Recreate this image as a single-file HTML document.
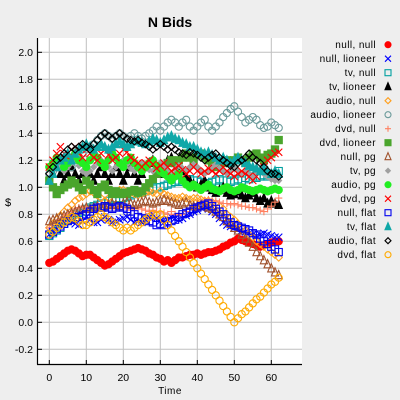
<!DOCTYPE html>
<html><head><meta charset="utf-8"><style>
body{margin:0;background:#eeeeee;}
svg{display:block;font-family:"Liberation Sans",sans-serif;}
</style></head><body>
<svg id="chart" width="400" height="400" viewBox="0 0 400 400" xmlns="http://www.w3.org/2000/svg">
<rect x="0" y="0" width="400" height="400" fill="#eeeeee"/>
<text x="170" y="27" text-anchor="middle" font-size="14" font-weight="bold">N Bids</text>
<rect x="38" y="38" width="264" height="326" fill="#ffffff"/>
<g id="grid"></g>
<g id="series"></g>
<g id="axes"></g>
<text x="8" y="206" text-anchor="middle" font-size="11">$</text>
<text x="170" y="394" text-anchor="middle" font-size="10" letter-spacing="0.5">Time</text>
<g id="legend"></g>
</svg>
<script>
const xTicks=[0,10,20,30,40,50,60];
const yTicks=[-0.2,0,0.2,0.4,0.6,0.8,1.0,1.2,1.4,1.6,1.8,2.0];
const yTickLabels=["-0.2","0.0","0.2","0.4","0.6","0.8","1.0","1.2","1.4","1.6","1.8","2.0"];
const seriesNames=["null, null","null, lioneer","tv, null","tv, lioneer","audio, null","audio, lioneer","dvd, null","dvd, lioneer","null, pg","tv, pg","audio, pg","dvd, pg","null, flat","tv, flat","audio, flat","dvd, flat"];
const nullNull=[.44,.45,.47,.49,.51,.53,.54,.53,.51,.49,.50,.50,.48,.46,.44,.42,.43,.45,.47,.49,.51,.52,.53,.54,.55,.54,.53,.51,.50,.48,.47,.45,.46,.44,.46,.48,.48,.49,.50,.50,.51,.50,.51,.52,.52,.53,.54,.56,.57,.59,.60,.62,.61,.60,.59,.58,.57,.56,.57,.58,.59,.60,.60];
const nullLioneer=[.65,.67,.69,.72,.74,.76,.75,.73,.72,.75,.78,.76,.74,.74,.76,.78,.76,.74,.75,.76,.77,.78,.76,.74,.75,.74,.76,.78,.80,.77,.75,.74,.76,.78,.77,.76,.77,.79,.80,.82,.83,.85,.86,.84,.82,.80,.77,.74,.72,.71,.70,.69,.68,.67,.66,.65,.64,.65,.66,.65,.64,.63,.63];
const tvNull=[.64,.66,.68,.70,.73,.76,.78,.80,.81,.82,.84,.85,.86,.87,.88,.88,.90,.91,.92,.92,.92,.93,.94,.95,.96,.96,.97,.98,.99,1.00,1.00,1.01,1.02,1.03,1.04,1.05,1.04,1.05,1.06,1.05,1.05,1.04,1.03,1.03,1.04,1.05,1.06,1.05,1.05,1.04,1.05,1.06,1.05,1.07,1.06,1.08,1.07,1.08,1.09,1.08,1.09,1.10,1.12];
const tvLioneer=[1.05,1.10,1.15,1.10,1.05,1.10,1.15,1.10,1.05,1.10,1.15,1.10,1.05,1.10,1.15,1.10,1.05,1.10,1.15,1.10,1.05,1.10,1.15,1.10,1.05,1.10,1.15,1.18,1.20,1.15,1.10,1.15,1.20,1.22,1.18,1.15,1.12,1.08,1.05,1.02,1.00,1.02,1.05,1.00,0.98,0.96,0.98,1.00,0.96,0.94,0.95,0.97,0.94,0.92,0.94,0.96,0.92,0.90,0.92,0.88,0.90,0.88,0.87];
const audioNull=[.70,.73,.76,.79,.82,.85,.87,.90,.92,.93,.95,.97,.96,.94,.92,.90,.92,.95,.97,.98,.98,.97,.96,.95,.94,.95,.96,.97,.96,.95,.97,.95,.94,.93,.92,.92,.93,.92,.91,.92,.92,.91,.90,.90,.89,.88,.86,.84,.80,.78,.76,.73,.70,.68,.65,.63,.60,.58,.56,.54,.52,.50,.48];
const audioLioneer=[1.10,1.12,1.15,1.18,1.20,1.18,1.15,1.20,1.22,1.25,1.28,1.30,1.32,1.35,1.38,1.40,1.38,1.36,1.38,1.40,1.38,1.36,1.38,1.40,1.38,1.36,1.38,1.40,1.42,1.45,1.42,1.45,1.48,1.50,1.48,1.45,1.48,1.50,1.45,1.42,1.45,1.48,1.50,1.45,1.42,1.45,1.48,1.52,1.55,1.58,1.60,1.56,1.52,1.48,1.50,1.52,1.50,1.46,1.44,1.45,1.48,1.46,1.44];
const dvdNull=[.70,.72,.74,.76,.78,.80,.82,.84,.85,.86,.85,.84,.85,.86,.87,.86,.85,.84,.85,.86,.85,.84,.83,.84,.85,.84,.83,.82,.83,.82,.82,.81,.80,.82,.80,.79,.80,.82,.84,.86,.88,.89,.90,.91,.90,.90,.89,.88,.88,.87,.88,.87,.86,.86,.85,.85,.84,.83,.82,.84,.86,.89,.92];
const dvdLioneer=[1.05,1.00,0.95,0.98,1.00,1.02,1.05,1.03,1.00,0.98,1.05,1.02,0.98,0.95,1.00,1.02,0.98,0.95,0.97,0.95,0.96,0.95,0.97,0.98,0.96,0.97,1.00,1.03,1.06,1.10,1.12,1.15,1.18,1.20,1.18,1.20,1.22,1.25,1.22,1.20,1.24,1.25,1.22,1.20,1.18,1.15,1.16,1.18,1.20,1.18,1.20,1.22,1.20,1.18,1.22,1.24,1.25,1.22,1.20,1.24,1.25,1.28,1.35];
const nullPg=[.75,.76,.77,.78,.79,.80,.81,.82,.83,.84,.85,.84,.85,.86,.85,.86,.87,.88,.87,.86,.88,.89,.88,.87,.88,.89,.90,.89,.88,.89,.90,.91,.90,.89,.88,.87,.88,.89,.87,.86,.86,.87,.86,.85,.84,.82,.80,.78,.75,.73,.70,.68,.65,.62,.59,.56,.52,.49,.46,.43,.40,.37,.35];
const tvPg=[1.15,1.18,1.20,1.15,1.12,1.15,1.18,1.20,1.16,1.12,1.10,1.12,1.15,1.18,1.20,1.18,1.15,1.12,1.15,1.18,1.20,1.17,1.14,1.12,1.15,1.18,1.16,1.13,1.12,1.15,1.18,1.15,1.12,1.10,1.13,1.16,1.14,1.12,1.15,1.17,1.15,1.12,1.10,1.12,1.15,1.17,1.14,1.12,1.10,1.12,1.14,1.12,1.10,1.12,1.10,1.08,1.10,1.12,1.10,1.08,1.06,1.05,1.05];
const audioPg=[1.15,1.18,1.22,1.20,1.15,1.18,1.22,1.25,1.20,1.18,1.15,1.20,1.25,1.22,1.18,1.15,1.20,1.25,1.22,1.18,1.15,1.20,1.22,1.18,1.15,1.12,1.15,1.18,1.20,1.16,1.12,1.10,1.08,1.05,1.08,1.10,1.05,1.02,1.00,1.02,1.00,0.98,1.00,1.02,0.99,0.98,0.97,0.99,1.00,0.98,0.97,0.98,1.00,0.99,0.98,0.97,0.98,0.99,0.98,0.97,0.98,0.99,0.98];
const dvdPg=[1.15,1.20,1.25,1.30,1.25,1.22,1.28,1.30,1.26,1.22,1.28,1.25,1.22,1.20,1.25,1.28,1.24,1.20,1.22,1.25,1.28,1.26,1.22,1.20,1.18,1.15,1.18,1.20,1.17,1.14,1.16,1.18,1.15,1.12,1.14,1.16,1.13,1.10,1.12,1.15,1.12,1.10,1.12,1.14,1.12,1.10,1.12,1.15,1.12,1.10,1.08,1.10,1.12,1.10,1.08,1.05,1.08,1.12,1.15,1.20,1.22,1.25,1.26];
const nullFlat=[.65,.67,.69,.71,.73,.75,.76,.77,.78,.79,.80,.82,.84,.85,.85,.86,.85,.84,.85,.86,.85,.84,.82,.80,.78,.77,.76,.75,.74,.72,.73,.72,.74,.75,.76,.78,.80,.81,.82,.84,.85,.86,.87,.88,.86,.84,.82,.80,.77,.74,.72,.71,.70,.69,.68,.66,.65,.62,.60,.58,.56,.54,.52];
const tvFlat=[1.05,1.10,1.15,1.20,1.22,1.25,1.20,1.25,1.28,1.30,1.32,1.30,1.28,1.30,1.32,1.30,1.28,1.30,1.32,1.34,1.32,1.30,1.32,1.34,1.35,1.33,1.32,1.34,1.36,1.35,1.33,1.35,1.37,1.38,1.36,1.35,1.33,1.32,1.30,1.30,1.28,1.26,1.25,1.26,1.24,1.22,1.20,1.22,1.20,1.18,1.20,1.22,1.20,1.18,1.16,1.15,1.14,1.12,1.14,1.12,1.10,1.12,1.10];
const audioFlat=[1.10,1.15,1.20,1.22,1.25,1.28,1.30,1.28,1.30,1.32,1.30,1.28,1.32,1.35,1.38,1.40,1.38,1.36,1.38,1.40,1.38,1.36,1.35,1.34,1.35,1.33,1.32,1.30,1.28,1.30,1.32,1.30,1.28,1.30,1.28,1.26,1.25,1.24,1.26,1.25,1.24,1.22,1.20,1.22,1.24,1.25,1.22,1.20,1.18,1.16,1.15,1.18,1.20,1.22,1.25,1.22,1.20,1.18,1.15,1.12,1.10,1.10,1.08];
const dvdFlat=[.65,.67,.70,.72,.74,.76,.78,.77,.75,.72,.72,.74,.76,.78,.80,.78,.76,.74,.72,.70,.68,.70,.68,.70,.72,.74,.76,.78,.80,.79,.80,.76,.72,.68,.64,.60,.56,.52,.48,.44,.40,.36,.32,.28,.24,.20,.16,.12,.08,.04,.00,.03,.06,.08,.11,.14,.17,.19,.22,.25,.28,.30,.33];

const allSeries=[nullNull,nullLioneer,tvNull,tvLioneer,audioNull,audioLioneer,dvdNull,dvdLioneer,nullPg,tvPg,audioPg,dvdPg,nullFlat,tvFlat,audioFlat,dvdFlat];
const styles=[["circle","#ff0000",true],["x","#0000ff",false],["square","#00a0a0",false],["triangle","#000000",true],["diamond","#ffa020",false],["circle","#6a9a9a",false],["plus","#ff8060",false],["square","#4aa52c",true],["triangle","#a0522d",false],["diamond","#a0a0a0",true],["circle","#22ee22",true],["x","#ff0000",false],["square","#0000ee",false],["triangle","#10a8a8",true],["diamond","#000000",false],["circle","#ffaa00",false]];
const NS="http://www.w3.org/2000/svg";
function xs(t){return 49.3+t*3.7;}
function ys(v){return 322.3-v*135;}
function mk(tag,attrs){const e=document.createElementNS(NS,tag);for(const k in attrs)e.setAttribute(k,attrs[k]);return e;}
function marker(type,color,filled,x,y,s){
  const sw=1.1;let e;
  const fill=filled?color:"none";
  if(type==="circle"){e=mk("circle",{cx:x,cy:y,r:s,fill:fill,stroke:color,"stroke-width":sw});}
  else if(type==="square"){e=mk("rect",{x:x-s,y:y-s,width:2*s,height:2*s,fill:fill,stroke:color,"stroke-width":sw});}
  else if(type==="triangle"){e=mk("polygon",{points:`${x},${y-s-1} ${x+s},${y+s} ${x-s},${y+s}`,fill:fill,stroke:color,"stroke-width":sw});}
  else if(type==="diamond"){const d=filled?s*0.8:s;e=mk("polygon",{points:`${x},${y-d} ${x+d},${y} ${x},${y+d} ${x-d},${y}`,fill:fill,stroke:color,"stroke-width":sw});}
  else if(type==="x"){e=mk("path",{d:`M${x-s},${y-s}L${x+s},${y+s}M${x-s},${y+s}L${x+s},${y-s}`,stroke:color,"stroke-width":sw,fill:"none"});}
  else {e=mk("path",{d:`M${x-s},${y}L${x+s},${y}M${x},${y-s}L${x},${y+s}`,stroke:color,"stroke-width":sw,fill:"none"});}
  return e;
}
const grid=document.getElementById("grid");
xTicks.forEach(t=>{const l=mk("line",{x1:xs(t),x2:xs(t),y1:38,y2:364,stroke:"#c0c0c0","stroke-width":1});


grid.appendChild(l);});
yTicks.forEach(v=>{const l=mk("line",{x1:38,x2:302,y1:ys(v),y2:ys(v),stroke:"#c0c0c0","stroke-width":1});


grid.appendChild(l);});
const sg=document.getElementById("series");
allSeries.forEach((vals,i)=>{
  const g=mk("g",{});
  
  
  const st=styles[i];
  vals.forEach((v,t)=>{const m=marker(st[0],st[1],st[2],xs(t),ys(v),3.6);
    
    
    g.appendChild(m);});
  sg.appendChild(g);
});
const ax=document.getElementById("axes");
const yl=mk("line",{x1:37.5,x2:37.5,y1:38,y2:364.5,stroke:"#000","stroke-width":1.2});


ax.appendChild(yl);
const xl=mk("line",{x1:37,x2:302,y1:364.5,y2:364.5,stroke:"#000","stroke-width":1.2});


ax.appendChild(xl);
yTicks.forEach((v,i)=>{
  const tk=mk("line",{x1:38,x2:42,y1:ys(v),y2:ys(v),stroke:"#000","stroke-width":1});
  
  
  ax.appendChild(tk);
  const tx=mk("text",{x:33,y:ys(v)+3.5,"text-anchor":"end","font-size":10.5});
  tx.textContent=yTickLabels[i];
  
  
  ax.appendChild(tx);
});
xTicks.forEach(t=>{
  const tk=mk("line",{x1:xs(t),x2:xs(t),y1:360,y2:364,stroke:"#000","stroke-width":1});
  
  
  ax.appendChild(tk);
  const tx=mk("text",{x:xs(t),y:381,"text-anchor":"middle","font-size":10.5});
  tx.textContent=String(t);
  
  
  ax.appendChild(tx);
});
const lg=document.getElementById("legend");
seriesNames.forEach((n,i)=>{
  const y=44.7+i*14;
  const g=mk("g",{});
  
  
  const tx=mk("text",{x:376,y:y+3.5,"text-anchor":"end","font-size":10,"letter-spacing":"0.4"});
  tx.textContent=n;
  g.appendChild(tx);
  const st=styles[i];
  g.appendChild(marker(st[0],st[1],st[2],388,y,3));
  lg.appendChild(g);
});
</script>
</body></html>
